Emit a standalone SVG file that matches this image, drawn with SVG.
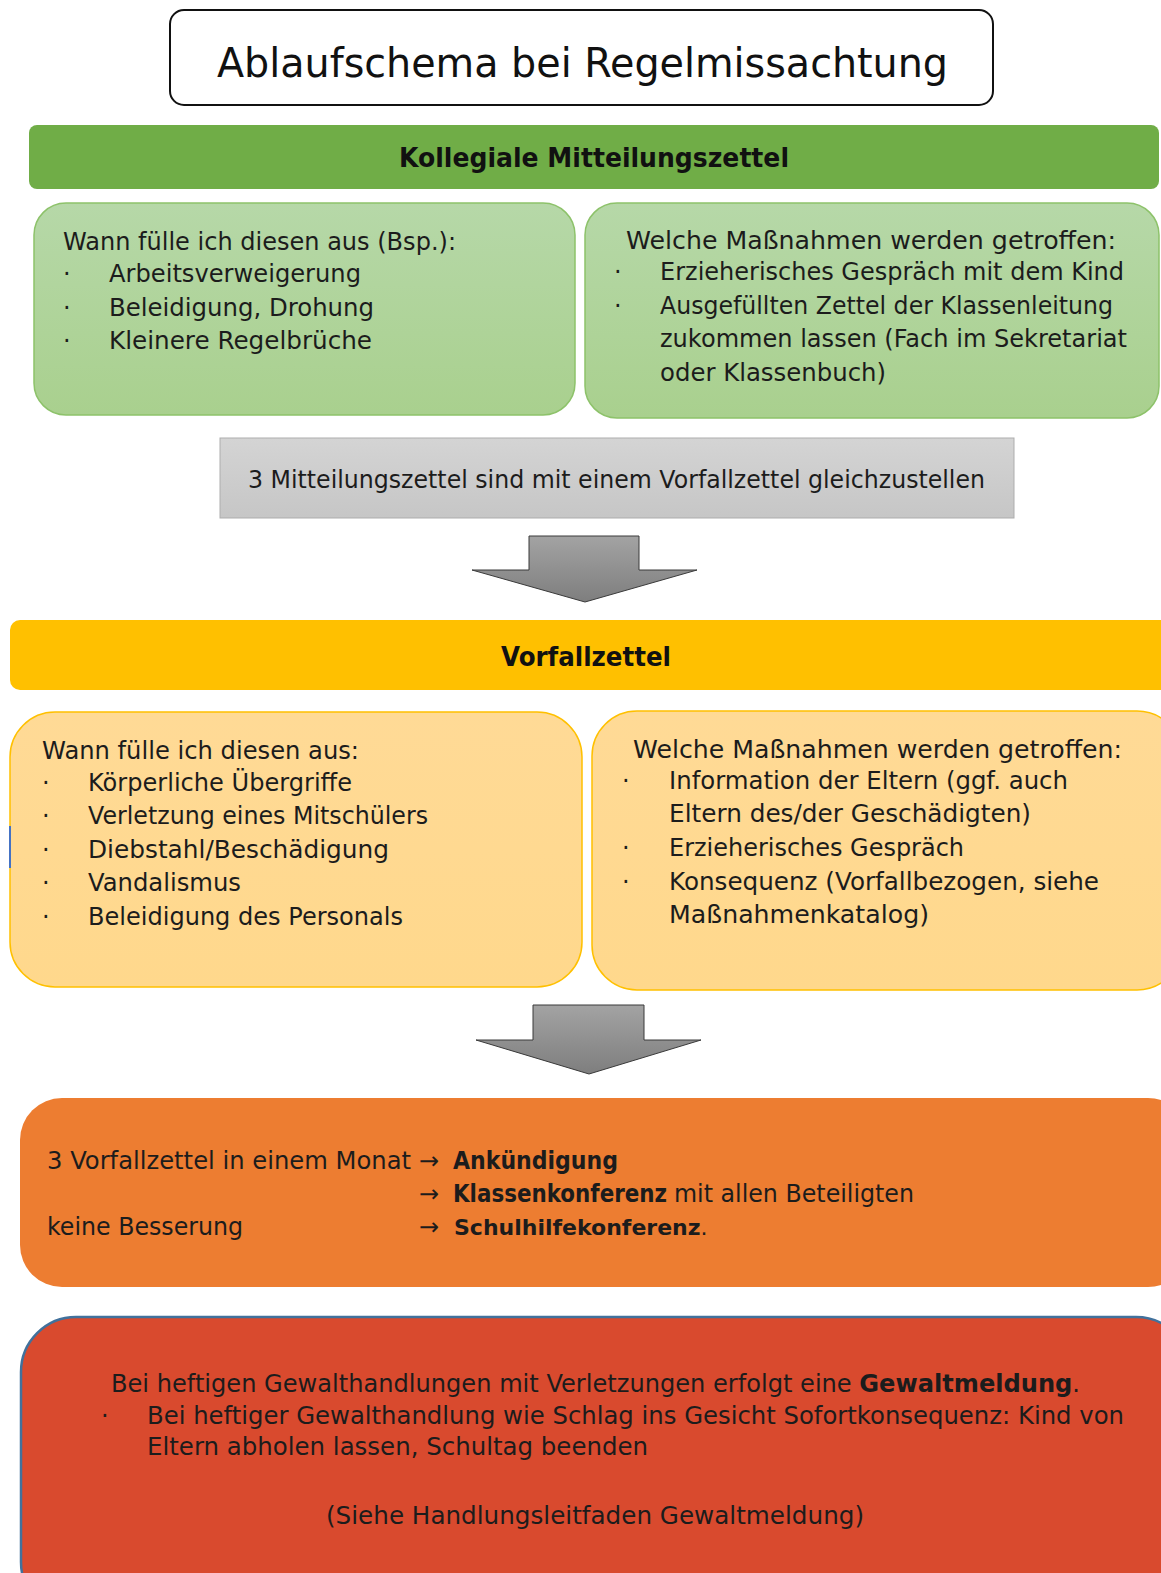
<svg xmlns="http://www.w3.org/2000/svg" width="1161" height="1573" viewBox="0 0 1161 1573">
<style>
text{font-family:"DejaVu Sans","Liberation Sans",sans-serif;fill:#1c1c1c;font-size:24px}
.b{font-weight:bold}
.h{font-size:26px;font-weight:bold;fill:#111}
.t{font-size:40px;fill:#111}
</style>
<defs>
<linearGradient id="gg" x1="0" y1="0" x2="0" y2="1"><stop offset="0" stop-color="#B6D8A8"/><stop offset="1" stop-color="#A9D08E"/></linearGradient>
<linearGradient id="gy" x1="0" y1="0" x2="0" y2="1"><stop offset="0" stop-color="#FFDA96"/><stop offset="1" stop-color="#FFD88C"/></linearGradient>
<linearGradient id="gr" x1="0" y1="0" x2="0" y2="1"><stop offset="0" stop-color="#D4D4D4"/><stop offset="1" stop-color="#C6C6C6"/></linearGradient>
<linearGradient id="ga" x1="0" y1="0" x2="0" y2="1"><stop offset="0" stop-color="#A3A3A3"/><stop offset="1" stop-color="#7E7E7E"/></linearGradient>
</defs>

<g id="title">
<rect x="170" y="10" width="823" height="95" rx="14" fill="#fff" stroke="#111" stroke-width="2"/>
<text class="t" x="217" y="77" textLength="731" lengthAdjust="spacingAndGlyphs">Ablaufschema bei Regelmissachtung</text>
</g>

<g id="hdr-mitteilung">
<rect x="29" y="125" width="1130" height="64" rx="8" fill="#70AD47"/>
<text class="h" x="399" y="167" textLength="390" lengthAdjust="spacingAndGlyphs">Kollegiale Mitteilungszettel</text>
</g>

<g id="mitteilung-wann">
<rect x="34" y="203" width="541" height="212" rx="32" fill="url(#gg)" stroke="#8DC26A" stroke-width="1.5"/>
<text x="63" y="250" textLength="393" lengthAdjust="spacingAndGlyphs">Wann fülle ich diesen aus (Bsp.):</text>
<text x="63" y="282">·</text><text x="109" y="282" textLength="252" lengthAdjust="spacingAndGlyphs">Arbeitsverweigerung</text>
<text x="63" y="316">·</text><text x="109" y="316" textLength="265" lengthAdjust="spacingAndGlyphs">Beleidigung, Drohung</text>
<text x="63" y="349">·</text><text x="109" y="349" textLength="263" lengthAdjust="spacingAndGlyphs">Kleinere Regelbrüche</text>
</g>

<g id="mitteilung-massnahmen">
<rect x="585" y="203" width="574" height="215" rx="32" fill="url(#gg)" stroke="#8DC26A" stroke-width="1.5"/>
<text x="626" y="249" textLength="490" lengthAdjust="spacingAndGlyphs">Welche Maßnahmen werden getroffen:</text>
<text x="614" y="280">·</text><text x="660" y="280" textLength="464" lengthAdjust="spacingAndGlyphs">Erzieherisches Gespräch mit dem Kind</text>
<text x="614" y="314">·</text><text x="660" y="314" textLength="453" lengthAdjust="spacingAndGlyphs">Ausgefüllten Zettel der Klassenleitung</text>
<text x="660" y="347" textLength="467" lengthAdjust="spacingAndGlyphs">zukommen lassen (Fach im Sekretariat</text>
<text x="660" y="381" textLength="226" lengthAdjust="spacingAndGlyphs">oder Klassenbuch)</text>
</g>

<g id="gleichstellung">
<rect x="220" y="438" width="794" height="80" fill="url(#gr)" stroke="#ADADAD" stroke-width="1"/>
<text x="248" y="488" textLength="737" lengthAdjust="spacingAndGlyphs">3 Mitteilungszettel sind mit einem Vorfallzettel gleichzustellen</text>
</g>

<g id="hdr-vorfall">
<rect x="10" y="620" width="1165" height="70" rx="10" fill="#FFC000"/>
<text class="h" x="501" y="666" textLength="170" lengthAdjust="spacingAndGlyphs">Vorfallzettel</text>
</g>

<g id="vorfall-wann">
<rect x="10" y="712" width="572" height="275" rx="45" fill="url(#gy)" stroke="#FFC000" stroke-width="1.5"/>
<line x1="10" y1="826" x2="10" y2="868" stroke="#4472C4" stroke-width="2"/>
<text x="42" y="759" textLength="317" lengthAdjust="spacingAndGlyphs">Wann fülle ich diesen aus:</text>
<text x="42" y="791">·</text><text x="88" y="791" textLength="264" lengthAdjust="spacingAndGlyphs">Körperliche Übergriffe</text>
<text x="42" y="824">·</text><text x="88" y="824" textLength="340" lengthAdjust="spacingAndGlyphs">Verletzung eines Mitschülers</text>
<text x="42" y="858">·</text><text x="88" y="858" textLength="301" lengthAdjust="spacingAndGlyphs">Diebstahl/Beschädigung</text>
<text x="42" y="891">·</text><text x="88" y="891" textLength="153" lengthAdjust="spacingAndGlyphs">Vandalismus</text>
<text x="42" y="925">·</text><text x="88" y="925" textLength="315" lengthAdjust="spacingAndGlyphs">Beleidigung des Personals</text>
</g>

<g id="vorfall-massnahmen">
<rect x="592" y="711" width="590" height="279" rx="45" fill="url(#gy)" stroke="#FFC000" stroke-width="1.5"/>
<text x="633" y="758" textLength="489" lengthAdjust="spacingAndGlyphs">Welche Maßnahmen werden getroffen:</text>
<text x="622" y="789">·</text><text x="669" y="789" textLength="399" lengthAdjust="spacingAndGlyphs">Information der Eltern (ggf. auch</text>
<text x="669" y="822" textLength="362" lengthAdjust="spacingAndGlyphs">Eltern des/der Geschädigten)</text>
<text x="622" y="856">·</text><text x="669" y="856" textLength="295" lengthAdjust="spacingAndGlyphs">Erzieherisches Gespräch</text>
<text x="622" y="890">·</text><text x="669" y="890" textLength="430" lengthAdjust="spacingAndGlyphs">Konsequenz (Vorfallbezogen, siehe</text>
<text x="669" y="923" textLength="260" lengthAdjust="spacingAndGlyphs">Maßnahmenkatalog)</text>
</g>

<g id="konferenz">
<rect x="20" y="1098" width="1170" height="189" rx="42" fill="#ED7D31"/>
<text x="47" y="1169" textLength="364" lengthAdjust="spacingAndGlyphs">3 Vorfallzettel in einem Monat</text>
<text x="419" y="1169">→</text>
<text class="b" x="453" y="1169" textLength="165" lengthAdjust="spacingAndGlyphs">Ankündigung</text>
<text x="419" y="1202">→</text>
<text class="b" x="453" y="1202" textLength="214" lengthAdjust="spacingAndGlyphs">Klassenkonferenz</text>
<text x="674" y="1202" textLength="240" lengthAdjust="spacingAndGlyphs">mit allen Beteiligten</text>
<text x="47" y="1235" textLength="196" lengthAdjust="spacingAndGlyphs">keine Besserung</text>
<text x="419" y="1235">→</text>
<text class="b" x="454" y="1235" style="font-size:22px">Schulhilfekonferenz<tspan font-weight="normal">.</tspan></text>
</g>

<g id="gewaltmeldung">
<rect x="21" y="1317" width="1170" height="300" rx="55" fill="#D94A2E" stroke="#41719C" stroke-width="2.5"/>
<text x="111" y="1392" textLength="969" lengthAdjust="spacingAndGlyphs">Bei heftigen Gewalthandlungen mit Verletzungen erfolgt eine <tspan class="b">Gewaltmeldung</tspan>.</text>
<text x="101" y="1424">·</text>
<text x="147" y="1424" textLength="977" lengthAdjust="spacingAndGlyphs">Bei heftiger Gewalthandlung wie Schlag ins Gesicht Sofortkonsequenz: Kind von</text>
<text x="147" y="1455" textLength="501" lengthAdjust="spacingAndGlyphs">Eltern abholen lassen, Schultag beenden</text>
<text x="326" y="1524" textLength="538" lengthAdjust="spacingAndGlyphs">(Siehe Handlungsleitfaden Gewaltmeldung)</text>
</g>

<g id="connectors">
<polygon points="529,536 639,536 639,570 697,570 585,602 472,570 529,570" fill="url(#ga)" stroke="#3A3A3A" stroke-width="1"/>
<polygon points="533,1005 644,1005 644,1040 701,1040 589,1074 476,1040 533,1040" fill="url(#ga)" stroke="#3A3A3A" stroke-width="1"/>
</g>
</svg>
